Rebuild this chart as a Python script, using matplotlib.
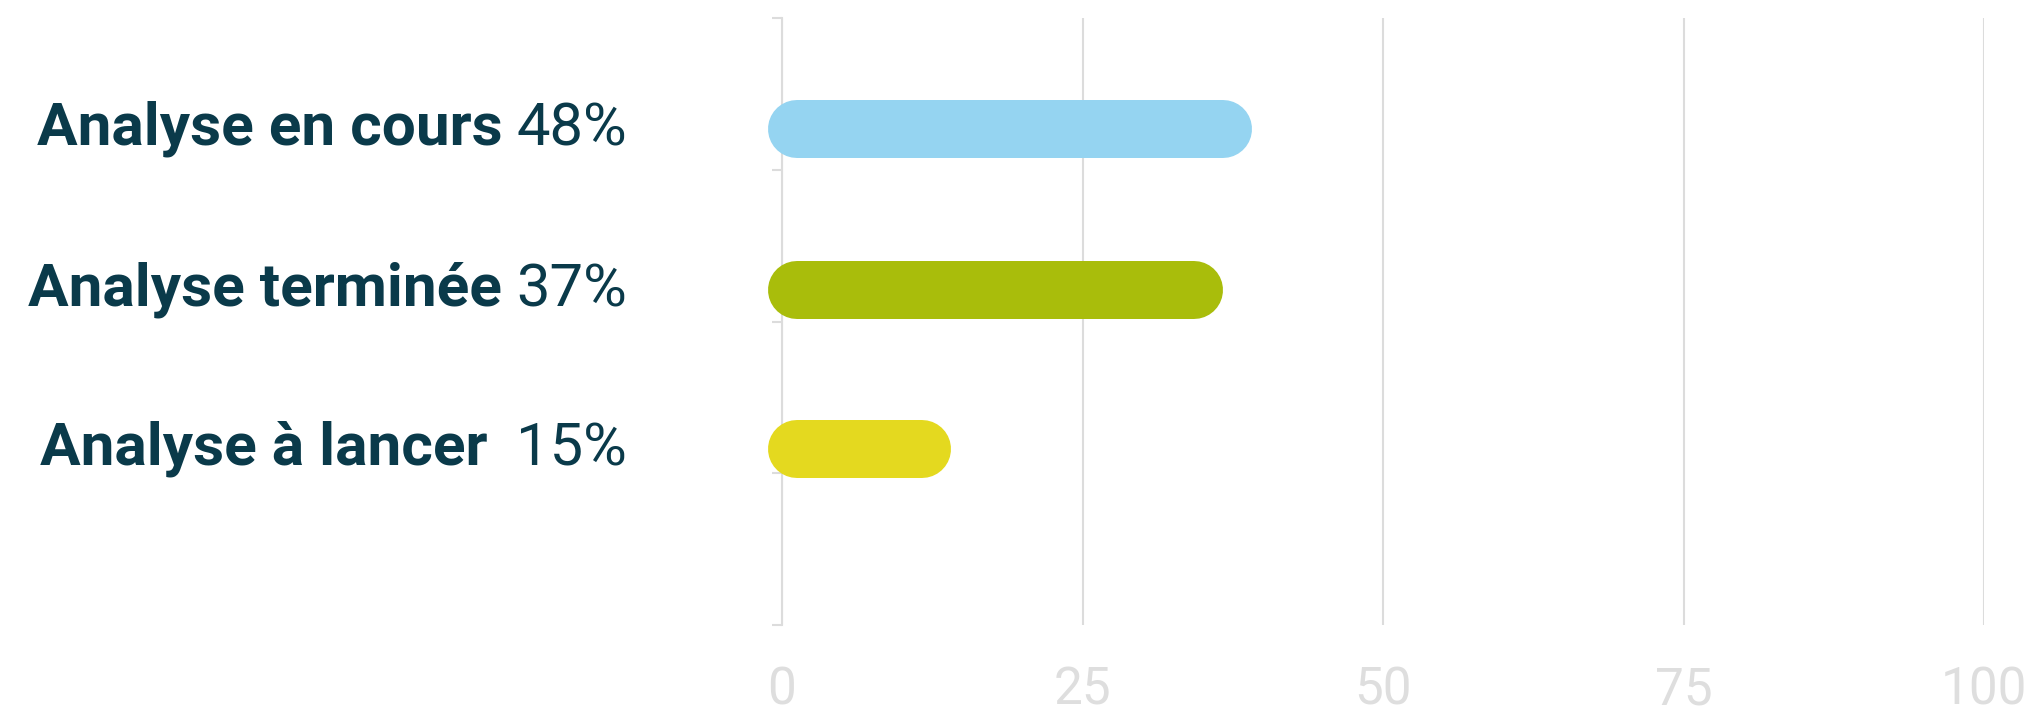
import matplotlib
matplotlib.use("Agg")
import matplotlib.pyplot as plt
from matplotlib.transforms import blended_transform_factory

# data
names = ["Analyse en cours", "Analyse terminée", "Analyse à lancer "]
pct_labels = ["48%", "37%", "15%"]
bar_values = [39.1, 36.7, 14.1]
bar_pos = [0.73, 1.79, 2.84]
colors = ["#95d4f1", "#a9bd0b", "#e4d91f"]
xticks = [0, 25, 50, 75, 100]

navy = "#0a3a4a"
grey = "#dcdcdc"

plt.rcParams['font.family'] = ['Roboto', 'DejaVu Sans']

W, H, DPI = 2034, 718, 100
fig = plt.figure(figsize=(W / DPI, H / DPI), dpi=DPI)
ax = fig.add_axes([782 / W, 1 - 625 / H, (1984 - 782) / W, (625 - 18) / H])

ax.set_xlim(0, 100)
ax.set_ylim(4, 0)

# rounded bars (line with round caps)
bar_px = 58
ax_w_px = 1984 - 782
r = bar_px / 2 / ax_w_px * 100
left_edge = -14 / ax_w_px * 100
for y, v, c in zip(bar_pos, bar_values, colors):
    ax.plot([left_edge + r, v - r], [y, y], color=c, lw=bar_px * 72 / DPI,
            solid_capstyle='round', clip_on=False, zorder=3)

# axes styling
for s in ["top", "right", "bottom"]:
    ax.spines[s].set_visible(False)
ax.spines["left"].set_color(grey)
ax.spines["left"].set_linewidth(1.5)
ax.set_yticks([0, 1, 2, 3, 4])
ax.set_yticklabels([])
ax.tick_params(axis='y', length=7, width=1.5, color=grey, direction='out')
ax.set_xticks(xticks)
ax.set_xticklabels([str(t) for t in xticks])
ax.tick_params(axis='x', length=0, pad=57, labelsize=37, labelcolor="#dedede")
for lab in ax.get_xticklabels():
    lab.set_va('baseline')
ax.grid(axis='x', color=grey, lw=1.5)
ax.set_axisbelow(True)

# category labels: bold name + regular percentage
fig.canvas.draw()
renderer = fig.canvas.get_renderer()
trans = blended_transform_factory(fig.transFigure, ax.transData)
x_right = 627 / W
for y, name, pct in zip(bar_pos, names, pct_labels):
    t = ax.text(x_right, y, pct, transform=trans, ha='right', va='center',
                fontsize=43, fontweight='normal', color=navy)
    bb = t.get_window_extent(renderer)
    x0 = (bb.x0 - 14) / W
    ax.text(x0, y, name, transform=trans, ha='right', va='center',
            fontsize=43.5, fontweight='bold', color=navy)

fig.savefig("out.png", dpi=DPI)
